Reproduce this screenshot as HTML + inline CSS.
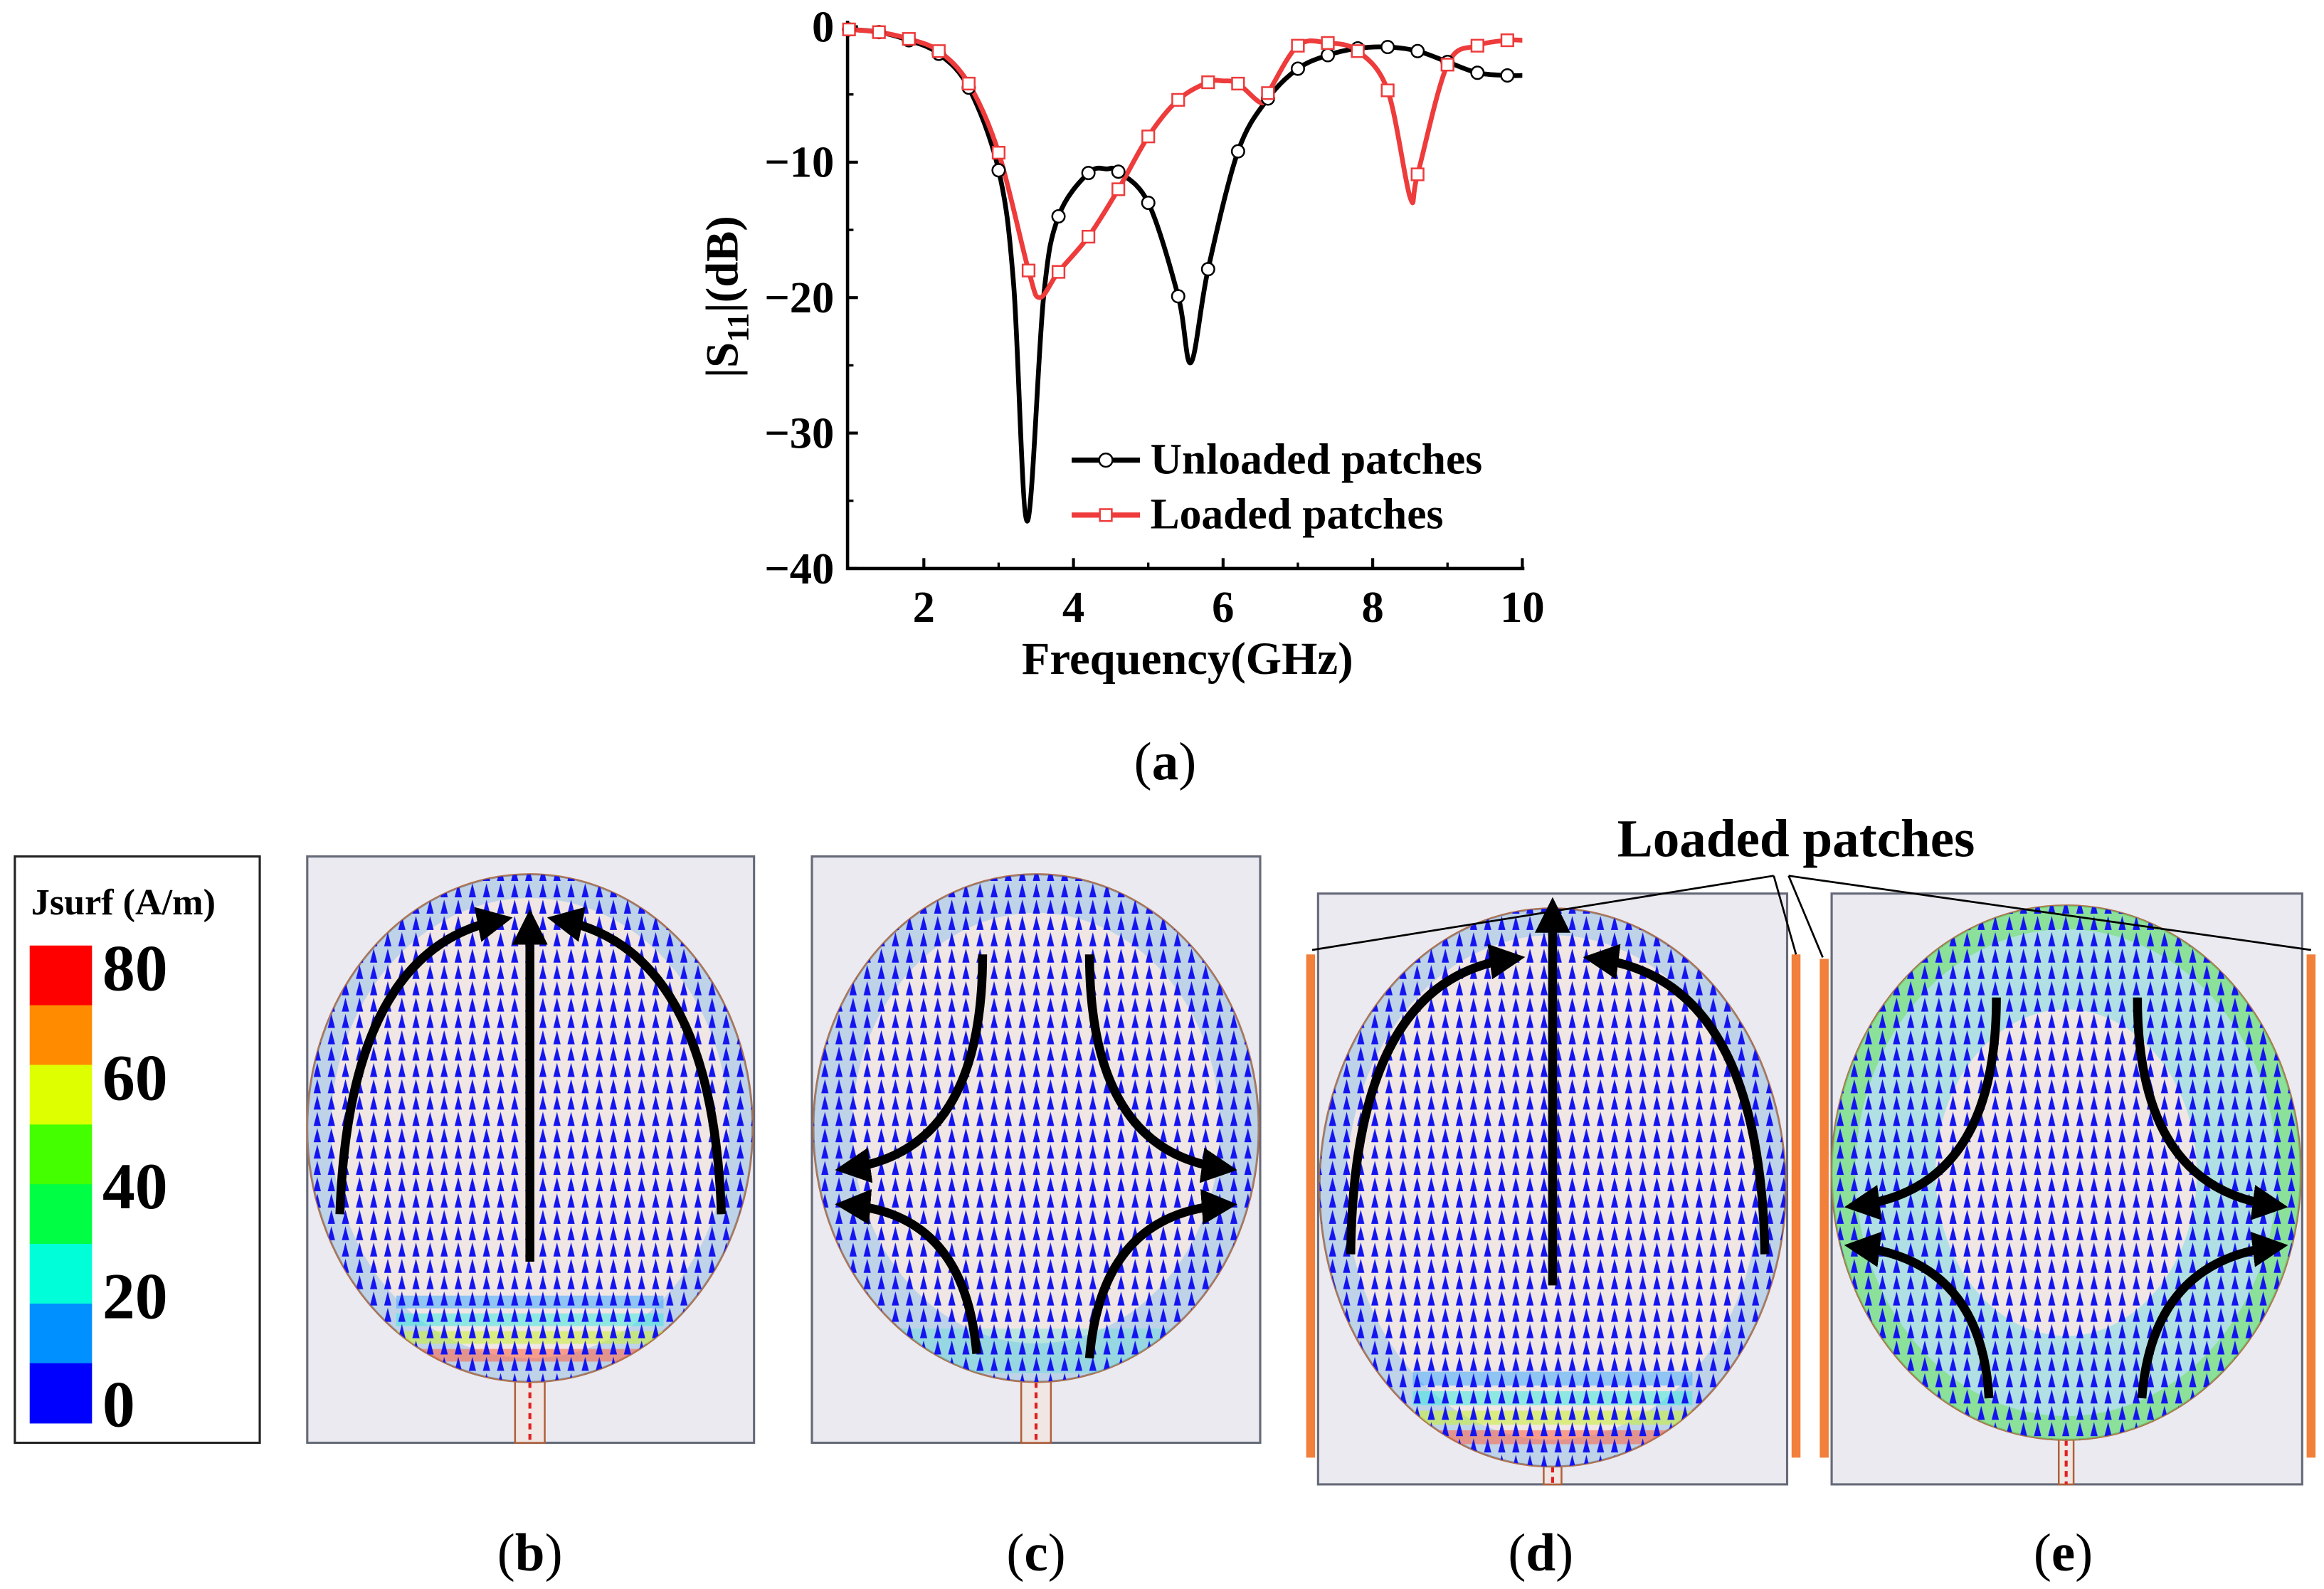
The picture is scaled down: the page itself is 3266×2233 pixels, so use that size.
<!DOCTYPE html>
<html><head><meta charset="utf-8"><style>
html,body{margin:0;padding:0;background:#fff;}
svg{display:block;}
text{font-family:"Liberation Serif",serif;font-weight:bold;}
</style></head><body>
<svg id="root" width="3266" height="2233" viewBox="0 0 1565.7 1070.5" preserveAspectRatio="none" xmlns="http://www.w3.org/2000/svg">
<defs>
<pattern id="pBlue" width="9.5" height="11" patternUnits="userSpaceOnUse">
<path d="M2.3 10.5 L4.75 1 L7.2 10.5 Z" fill="#1414f0"/>
</pattern>
<clipPath id="cb"><ellipse cx="357" cy="760" rx="150" ry="171"/></clipPath>
<clipPath id="cc"><ellipse cx="698" cy="760" rx="150" ry="171"/></clipPath>
<clipPath id="cd"><ellipse cx="1046" cy="800" rx="157" ry="188"/></clipPath>
<clipPath id="ce"><ellipse cx="1392" cy="790" rx="158" ry="180"/></clipPath>
<marker id="ah" viewBox="0 0 10 10" refX="6" refY="5" markerWidth="4" markerHeight="4" orient="auto"><path d="M0 0 L10 5 L0 10 Z" fill="#000"/></marker>
</defs>
<g id="chart"></g>
<g id="panels"></g>
</svg>
<script>
const NS="http://www.w3.org/2000/svg";
// ---- chart data ----
const unloadedFreq=[1,1.4,1.8,2.2,2.6,3.0,3.2,3.38,3.6,3.8,4.2,4.45,4.6,5.0,5.4,5.57,5.8,6.2,6.6,7.0,7.4,7.8,8.2,8.6,9.0,9.4,9.8,10];
const unloadedS11=[-0.2,-0.4,-1,-2,-4.5,-10.6,-19,-36.5,-20,-14,-10.8,-10.5,-10.7,-13,-19.9,-24.8,-17.9,-9.2,-5.3,-3.1,-2.1,-1.6,-1.5,-1.8,-2.6,-3.4,-3.6,-3.6];
const loadedFreq=[1,1.4,1.8,2.2,2.6,3.0,3.4,3.55,3.8,4.2,4.6,5.0,5.4,5.8,6.0,6.2,6.5,6.6,7.0,7.4,7.8,8.2,8.5,8.6,9.0,9.4,9.8,10];
const loadedS11=[-0.2,-0.4,-0.9,-1.8,-4.2,-9.3,-18,-20,-18.1,-15.5,-12,-8.1,-5.4,-4.1,-4,-4.2,-5.6,-4.9,-1.4,-1.2,-1.8,-4.7,-12.6,-10.9,-2.8,-1.4,-1,-1];
const markerFreqs=[1,1.4,1.8,2.2,2.6,3.0,3.4,3.8,4.2,4.6,5.0,5.4,5.8,6.2,6.6,7.0,7.4,7.8,8.2,8.6,9.0,9.4,9.8];
const xTicks=[2,4,6,8,10];
const yTicks=[0,-10,-20,-30,-40];

const X0=572,XS=50.4, Y0=18, YS=9.125;
const xs=f=>X0+(f-1)*XS;
const ys=v=>Y0-v*YS;
const chart=document.getElementById('chart');
function mk(tag,attrs,parent){const e=document.createElementNS(NS,tag);for(const k in attrs)e.setAttribute(k,attrs[k]);(parent||chart).appendChild(e);return e;}

let ax=mk('line',{x1:571,y1:14,x2:571,y2:384,stroke:'#000','stroke-width':2.2});


let bx=mk('line',{x1:570,y1:383,x2:1027,y2:383,stroke:'#000','stroke-width':2.2});


for(const t of xTicks){
  mk('line',{x1:xs(t),y1:383,x2:xs(t),y2:376,stroke:'#000','stroke-width':2});
  const tx=mk('text',{x:xs(t),y:419,'text-anchor':'middle','font-size':30});
  tx.textContent=t;
  
  
}
for(let t=3;t<=9;t+=2){mk('line',{x1:xs(t),y1:383,x2:xs(t),y2:379,stroke:'#000','stroke-width':1.6});}
for(const t of yTicks){
  mk('line',{x1:571,y1:ys(t),x2:578,y2:ys(t),stroke:'#000','stroke-width':2});
  const tx=mk('text',{x:562,y:ys(t)+10,'text-anchor':'end','font-size':30});
  tx.textContent=t===0?'0':'\u2212'+Math.abs(t);
  
  
}
for(let t=-5;t>=-35;t-=10){mk('line',{x1:571,y1:ys(t),x2:575,y2:ys(t),stroke:'#000','stroke-width':1.6});}

function smoothPath(fx,vy){
  const P=fx.map((f,i)=>[xs(f),ys(vy[i])]);
  let d=`M${P[0][0]},${P[0][1]}`;
  for(let i=0;i<P.length-1;i++){
    const p0=P[Math.max(0,i-1)],p1=P[i],p2=P[i+1],p3=P[Math.min(P.length-1,i+2)];
    const c1=[p1[0]+(p2[0]-p0[0])/6,p1[1]+(p2[1]-p0[1])/6];
    const c2=[p2[0]-(p3[0]-p1[0])/6,p2[1]-(p3[1]-p1[1])/6];
    d+=` C${c1[0]},${c1[1]} ${c2[0]},${c2[1]} ${p2[0]},${p2[1]}`;
  }
  return d;
}
const ul=mk('path',{d:smoothPath(unloadedFreq,unloadedS11),fill:'none',stroke:'#000','stroke-width':3.2});


const ll=mk('path',{d:smoothPath(loadedFreq,loadedS11),fill:'none',stroke:'#ee3b3b','stroke-width':3.2});


function valAt(fx,vy,f){const i=fx.findIndex(v=>Math.abs(v-f)<1e-6);return i>=0?vy[i]:null;}
for(const f of markerFreqs){
  const v=valAt(unloadedFreq,unloadedS11,f);
  if(v!==null){const c=mk('circle',{cx:xs(f),cy:ys(v),r:4.2,fill:'#fff',stroke:'#000','stroke-width':1.2});
  
  }
}
for(const f of markerFreqs){
  const v=valAt(loadedFreq,loadedS11,f);
  if(v!==null){const r=mk('rect',{x:xs(f)-4,y:ys(v)-4,width:8,height:8,fill:'#fff',stroke:'#ee3b3b','stroke-width':1.2});
  
  }
}
mk('line',{x1:722,y1:310,x2:768,y2:310,stroke:'#000','stroke-width':3.5});
mk('circle',{cx:745,cy:310,r:4.5,fill:'#fff',stroke:'#000','stroke-width':1.2});
let lt=mk('text',{x:775,y:319,'font-size':29.5});lt.textContent='Unloaded patches';


mk('line',{x1:722,y1:347,x2:768,y2:347,stroke:'#ee3b3b','stroke-width':3.5});
mk('rect',{x:741,y:343,width:8,height:8,fill:'#fff',stroke:'#ee3b3b','stroke-width':1.2});
lt=mk('text',{x:775,y:356,'font-size':29.5});lt.textContent='Loaded patches';


let yt=mk('text',{transform:'translate(497,200) rotate(-90)','text-anchor':'middle','font-size':31});
yt.innerHTML='|S<tspan font-size="21" dy="7">11</tspan><tspan dy="-7">|(dB)</tspan>';


let xt=mk('text',{x:800,y:454,'text-anchor':'middle','font-size':31});xt.textContent='Frequency(GHz)';


</script>
<script>
(function(){
const P=document.getElementById('panels');
function mk(tag,attrs,parent){const e=document.createElementNS(NS,tag);for(const k in attrs)e.setAttribute(k,attrs[k]);(parent||P).appendChild(e);return e;}
function lab(x,y,t,name){const e=mk('text',{x:x,y:y,'text-anchor':'middle','font-size':36});e.style.fontWeight='normal';e.innerHTML='(<tspan style="font-weight:bold">'+t+'</tspan>)';}
lab(785,525,'a','label-a');
let lg=mk('rect',{x:10,y:577,width:165,height:395,fill:'#fff',stroke:'#222','stroke-width':1.5});


let tt=mk('text',{x:21,y:616,'font-size':25});tt.textContent='Jsurf (A/m)';


const cols=['#ff0000','#ff8c00','#ddff00','#44ff00','#00ff44','#00ffd8','#0090ff','#0000ff'];
cols.forEach((c,i)=>mk('rect',{x:20,y:637+i*40.2,width:42,height:40.6,fill:c}));
[['80',667],['60',741],['40',814],['20',888],['0',961]].forEach(([t,y])=>{const e=mk('text',{x:69,y:y,'font-size':44});e.textContent=t;});

function panel(name,rx,ry,rw,rh,cx,cy,ex,ey,clip,feedW,extra){
  const g=mk('g',{});
  mk('rect',{x:rx,y:ry,width:rw,height:rh,fill:'#eaeaf0',stroke:'#666a78','stroke-width':1.5},g);
  mk('rect',{x:cx-feedW/2,y:cy+ey-6,width:feedW,height:ry+rh-(cy+ey-6),fill:'#f0e6e4',stroke:'#b0603a','stroke-width':1.2},g);
  mk('line',{x1:cx,y1:cy+ey,x2:cx,y2:ry+rh,stroke:'#e02020','stroke-width':2,'stroke-dasharray':'4 3'},g);
  mk('ellipse',{cx:cx,cy:cy,rx:ex,ry:ey,fill:'#f0e6e4',stroke:'#b0704a','stroke-width':1.4},g);
  const f=mk('g',{'clip-path':'url(#'+clip+')'},g);
  extra(f,g);
  mk('rect',{x:cx-ex,y:cy-ey,width:2*ex,height:2*ey,fill:'url(#pBlue)'},f);
  return g;
}
function bands(f,cx,cy,ex,ey){
  const c=['#40a8ff','#40e8e0','#c8f030','#ff6040'];
  c.forEach((col,i)=>mk('rect',{x:cx-ex*0.6,y:cy+ey*0.66+i*ey*0.07,width:1.2*ex,height:ey*0.05,fill:col,opacity:0.55},f));
}
function ring(f,cx,cy,ex,ey,col,w,op){mk('ellipse',{cx:cx,cy:cy,rx:ex-w/2,ry:ey-w/2,fill:'none',stroke:col,'stroke-width':w,opacity:op},f);}
function arrow(g,d){mk('path',{d:d,fill:'none',stroke:'#000','stroke-width':6,'marker-end':'url(#ah)'},g);}

let gb=panel('panel-b',207,577,301,395,357,760,150,171,'cb',20,(f,g)=>{ring(f,357,760,150,171,'#60b0f0',16,0.35);bands(f,357,760,150,171);});
arrow(gb,'M357 850 L357 622');arrow(gb,'M229 818 Q235 640 336 620');arrow(gb,'M486 818 Q480 640 378 620');
lab(357,1058,'b','label-b');

let gc=panel('panel-c',547,577,302,395,698,760,150,171,'cc',20,(f,g)=>{ring(f,698,760,150,171,'#60b0f0',26,0.35);mk('rect',{x:560,y:895,width:280,height:30,fill:'#40e0d0',opacity:0.3},f);});
arrow(gc,'M662 643 Q662 775 572 787');arrow(gc,'M658 912 Q650 818 572 812');
arrow(gc,'M734 643 Q734 775 824 787');arrow(gc,'M734 915 Q742 818 824 812');
lab(698,1058,'c','label-c');

let gd=panel('panel-d',888,602,316,398,1046,800,157,188,'cd',12,(f,g)=>{ring(f,1046,800,157,188,'#60b0f0',18,0.35);bands(f,1046,800,157,188);});
arrow(gd,'M1046 866 L1046 614');arrow(gd,'M910 845 Q912 660 1018 646');arrow(gd,'M1189 845 Q1186 660 1076 646');
lab(1038,1058,'d','label-d');

let ge=panel('panel-e',1234,602,317,398,1392,790,158,180,'ce',10,(f,g)=>{ring(f,1392,790,158,180,'#50d8e0',70,0.4);ring(f,1392,790,158,180,'#60e040',16,0.45);});
arrow(ge,'M1345 672 Q1345 800 1252 812');arrow(ge,'M1340 942 Q1335 850 1252 840');
arrow(ge,'M1440 672 Q1440 800 1532 812');arrow(ge,'M1443 942 Q1450 850 1532 840');
lab(1390,1058,'e','label-e');

[[880,643,982],[1207,643,982],[1226,646,982],[1554,643,982]].forEach(([x,y1,y2])=>{const r=mk('rect',{x:x,y:y1,width:6,height:y2-y1,fill:'#f0803a'});});
const ann=mk('text',{x:1210,y:577,'text-anchor':'middle','font-size':36});ann.textContent='Loaded patches';


[[1195,590,884,640],[1195,590,1210,643],[1205,590,1228,645],[1205,590,1557,640]].forEach(([a,b,c,d])=>mk('line',{x1:a,y1:b,x2:c,y2:d,stroke:'#000','stroke-width':1.3}));
})();
</script>
</body></html>
